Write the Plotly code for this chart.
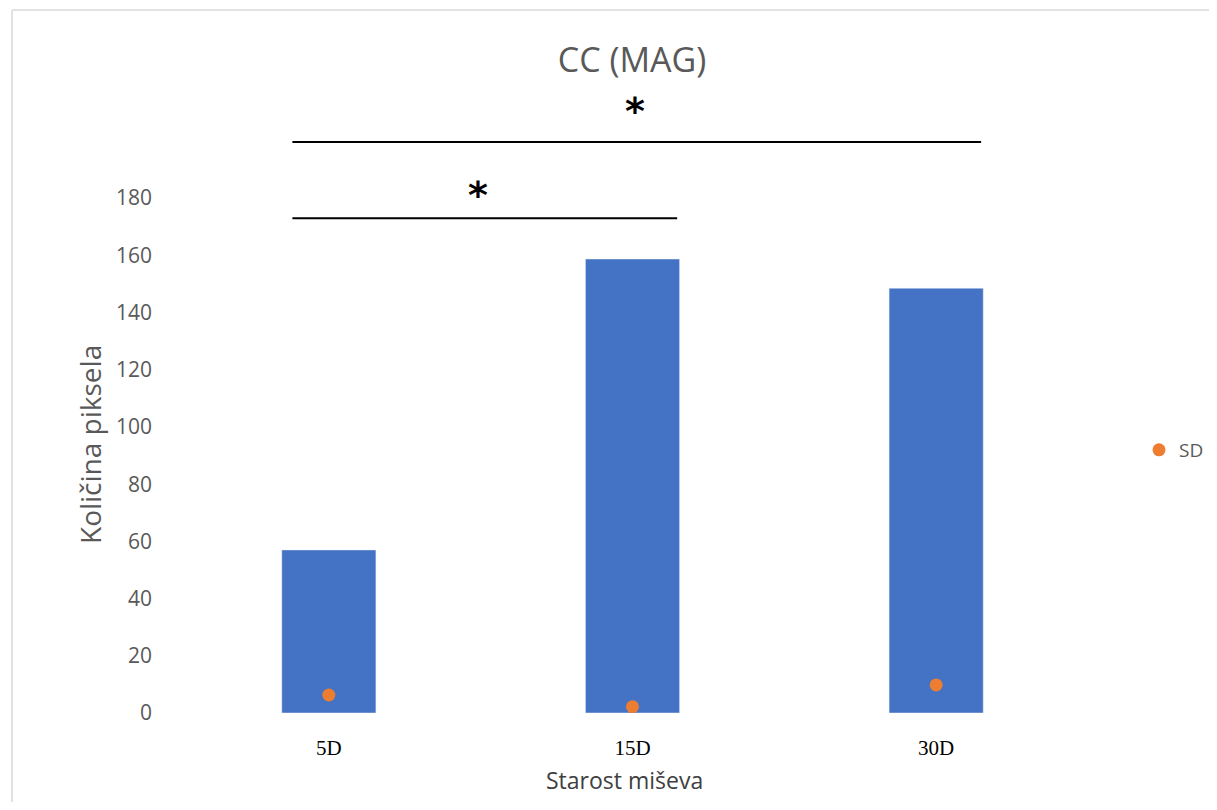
import plotly.graph_objects as go

categories = ["5D", "15D", "30D"]
bar_values = [57, 158.7, 148.5]
sd_values = [6.3, 2.2, 9.8]
y_ticks = [0, 20, 40, 60, 80, 100, 120, 140, 160, 180]

# page has an 8px body margin; figure sized to fit the window without scrolling
OFF = 8
W, H = 1217 - 2 * OFF, 810 - 2 * OFF
# plot area in reference page pixels
PL, PR, PT, PB = 177, 1088, 98, 713
L, R = PL - OFF, W - (PR - OFF)
T, B = PT - OFF, H - (PB - OFF)
pw, ph = W - L - R, H - T - B
def px(x): return (x - PL) / pw
def py(y): return (PB - y) / ph

fig = go.Figure()
fig.add_trace(go.Bar(x=categories, y=bar_values, marker_color="#4472C4",
                     width=0.31, showlegend=False, name="Mean"))
fig.add_trace(go.Scatter(x=categories, y=sd_values, mode="markers", name="SD",
                         marker=dict(color="#ED7D31", size=13)))

# significance brackets
fig.add_shape(type="line", xref="x", yref="y", x0=-0.12, x1=1.147, y0=173, y1=173,
              line=dict(color="black", width=2))
fig.add_shape(type="line", xref="x", yref="y", x0=-0.12, x1=2.148, y0=199.6, y1=199.6,
              line=dict(color="black", width=2))
fig.add_annotation(x=0.49, y=182, xref="x", yref="y", text="<b>*</b>", showarrow=False,
                   font=dict(family="DejaVu Sans", size=38, color="black"), yshift=-3)
fig.add_annotation(x=1.008, y=211.5, xref="x", yref="y", text="<b>*</b>", showarrow=False,
                   font=dict(family="DejaVu Sans", size=38, color="black"), yshift=-3)

# axis titles
fig.add_annotation(x=px(90), y=py(445), xref="paper", yref="paper", text="Količina piksela",
                   textangle=-90, showarrow=False, xanchor="center", yanchor="middle",
                   font=dict(family="Open Sans", size=28, color="#595959"))
fig.add_annotation(x=px(624), y=py(780), xref="paper", yref="paper", text="Starost miševa",
                   showarrow=False, xanchor="center", yanchor="middle",
                   font=dict(family="Open Sans", size=23, color="#404040"))

# outer frame (top and left edges visible)
fig.add_shape(type="line", xref="paper", yref="paper", x0=px(12), x1=px(1240),
              y0=py(10), y1=py(10), line=dict(color="#D9D9D9", width=1.5), layer="below")
fig.add_shape(type="line", xref="paper", yref="paper", x0=px(12), x1=px(12),
              y0=py(10), y1=py(830), line=dict(color="#D9D9D9", width=1.5), layer="below")

fig.update_layout(
    width=W, height=H,
    margin=dict(l=L, r=R, t=T, b=B, autoexpand=False),
    plot_bgcolor="white", paper_bgcolor="white",
    title=dict(text="CC (MAG)", x=(632 - OFF) / W, xanchor="center", y=1 - (60 - OFF) / H,
               yanchor="middle",
               font=dict(family="Open Sans", size=34, color="#595959")),
    legend=dict(x=px(1139), y=py(450), xanchor="left", yanchor="middle", itemwidth=30,
                font=dict(family="Open Sans", size=19, color="#595959"), bgcolor="rgba(0,0,0,0)"),
    xaxis=dict(showline=False, showgrid=False, ticks="", ticklabelstandoff=20, automargin=False,
               tickfont=dict(family="Liberation Serif", size=21, color="black")),
    yaxis=dict(range=[0, 215], tickvals=y_ticks, showgrid=False, showline=False, zeroline=False,
               ticks="", ticklabelstandoff=24, automargin=False,
               tickfont=dict(family="Open Sans", size=21, color="#595959")),
)

fig.write_html("out.html")
